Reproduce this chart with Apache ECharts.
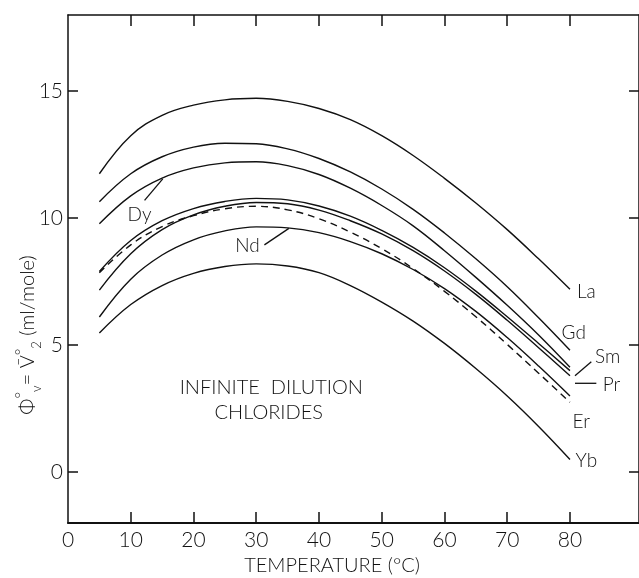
<!DOCTYPE html>
<html>
<head>
<meta charset="utf-8">
<title>Infinite dilution chlorides</title>
<script src="https://cdn.jsdelivr.net/npm/echarts@6/dist/echarts.min.js"></script>
<style>
    html, body {
        margin: 0;
        padding: 0;
        background: #fff;
    }

    #myChart {
        width: 639px;
        height: 578px;
    }
</style>
</head>
<body>
<div id="myChart"></div>
<script>
    // temperatures (°C) the curves were read at
    const temps = [5, 10, 15, 20, 25, 30, 35, 40, 45, 50, 55, 60, 65, 70, 75, 80];

    // phi_v° = V2° (ml/mole)
    const La = [11.75, 13.25, 14.05, 14.45, 14.66, 14.72, 14.6, 14.32, 13.88, 13.25, 12.47, 11.57, 10.6, 9.55, 8.4, 7.2];
    const Gd = [10.65, 11.75, 12.42, 12.8, 12.95, 12.93, 12.73, 12.35, 11.82, 11.15, 10.35, 9.42, 8.4, 7.3, 6.08, 4.8];
    const Dy = [9.78, 10.88, 11.58, 11.98, 12.18, 12.22, 12.07, 11.72, 11.18, 10.5, 9.7, 8.72, 7.67, 6.57, 5.4, 4.13];
    const Sm = [7.9, 9.12, 9.9, 10.38, 10.66, 10.78, 10.72, 10.48, 10.08, 9.52, 8.85, 8.05, 7.13, 6.12, 5.07, 4.0];
    const Pr = [7.17, 8.6, 9.55, 10.13, 10.47, 10.62, 10.57, 10.32, 9.9, 9.38, 8.72, 7.92, 7.0, 5.98, 4.9, 3.8];
    const Er = [7.85, 8.95, 9.67, 10.1, 10.37, 10.47, 10.33, 9.98, 9.45, 8.8, 8.02, 7.12, 6.12, 5.03, 3.9, 2.75];
    const Nd = [6.11, 7.6, 8.55, 9.15, 9.5, 9.66, 9.62, 9.43, 9.08, 8.6, 7.98, 7.23, 6.33, 5.3, 4.18, 3.0];
    const Yb = [5.48, 6.6, 7.35, 7.83, 8.1, 8.2, 8.12, 7.86, 7.35, 6.7, 5.95, 5.07, 4.08, 3.0, 1.8, 0.5];

    // ticks / labels
    const xTicks = [10, 20, 30, 40, 50, 60, 70, 80];
    const xLabels = [0, 10, 20, 30, 40, 50, 60, 70, 80];
    const yTicks = [0, 5, 10, 15];

    const curves = [
        { name: 'La', data: La },
        { name: 'Gd', data: Gd },
        { name: 'Dy', data: Dy },
        { name: 'Sm', data: Sm },
        { name: 'Pr', data: Pr },
        { name: 'Er', data: Er, dashed: true },
        { name: 'Nd', data: Nd },
        { name: 'Yb', data: Yb }
    ];

    // text on the plot, in data units (T, V)
    const notes = [
        { text: 'La', at: [82.6, 7.1] },
        { text: 'Gd', at: [80.6, 5.5] },
        { text: 'Sm', at: [86.0, 4.55] },
        { text: 'Pr', at: [86.6, 3.45] },
        { text: 'Er', at: [81.8, 2.0] },
        { text: 'Yb', at: [82.6, 0.45] },
        { text: 'Dy', at: [11.4, 10.15] },
        { text: 'Nd', at: [28.6, 8.9] },
        { text: 'INFINITE  DILUTION', at: [32.4, 3.35] },
        { text: 'CHLORIDES', at: [32.0, 2.35] }
    ];
    // little leader lines from label to curve
    const leaders = [
        [[12.2, 10.7], [15.1, 11.55]],
        [[31.3, 8.95], [35.2, 9.6]],
        [[80.8, 3.8], [83.4, 4.35]],
        [[80.8, 3.5], [84.2, 3.5]]
    ];

    const FONT = 'Lato';
    const INK = '#111';

    let myChart = echarts.init(document.getElementById('myChart'));

    function xAxisOpt(pos) {
        return {
            type: 'value',
            position: pos,
            min: 0,
            max: 91,
            axisLine: { show: true, onZero: false, lineStyle: { color: INK, width: pos === 'bottom' ? 2 : 1.5 } },
            axisTick: { show: true, inside: true, length: 11, customValues: xTicks, lineStyle: { color: INK, width: 1.5 } },
            axisLabel: {
                show: pos === 'bottom',
                customValues: xLabels,
                margin: 7,
                color: INK,
                fontFamily: FONT,
                fontWeight: 300,
                fontSize: 21
            },
            splitLine: { show: false }
        };
    }

    function yAxisOpt(pos) {
        return {
            type: 'value',
            position: pos,
            min: -2,
            max: 18,
            axisLine: { show: true, onZero: false, lineStyle: { color: INK, width: 1.5 } },
            axisTick: { show: true, inside: true, length: 10, customValues: yTicks, lineStyle: { color: INK, width: 1.5 } },
            axisLabel: {
                show: pos === 'left',
                customValues: yTicks,
                margin: 5,
                color: INK,
                fontFamily: FONT,
                fontWeight: 300,
                fontSize: 21
            },
            splitLine: { show: false }
        };
    }

    let option = {
        animation: false,
        backgroundColor: '#fff',
        grid: { left: 68, top: 15, width: 573, height: 508 },
        xAxis: [xAxisOpt('bottom'), xAxisOpt('top')],
        yAxis: [yAxisOpt('left'), yAxisOpt('right')],
        series: curves.map(c => ({
            name: c.name,
            type: 'line',
            xAxisIndex: 0,
            yAxisIndex: 0,
            smooth: 0.4,
            symbol: 'none',
            data: temps.map((t, i) => [t, c.data[i]]),
            lineStyle: {
                color: INK,
                width: 1.4,
                type: c.dashed ? [7, 5] : 'solid'
            }
        }))
    };
    myChart.setOption(option);

    // annotations are placed once the axes exist
    const px = p => myChart.convertToPixel({ xAxisIndex: 0, yAxisIndex: 0 }, p);
    let graphics = [];
    for (let n of notes) {
        let p = px(n.at);
        graphics.push({
            type: 'text',
            x: p[0],
            y: p[1],
            style: {
                text: n.text,
                fill: INK,
                fontFamily: FONT,
                fontWeight: 300,
                fontSize: n.text.length > 2 ? 20 : 19,
                align: 'center',
                verticalAlign: 'middle'
            }
        });
    }
    for (let l of leaders) {
        let a = px(l[0]);
        let b = px(l[1]);
        graphics.push({
            type: 'line',
            shape: { x1: a[0], y1: a[1], x2: b[0], y2: b[1] },
            style: { stroke: INK, lineWidth: 1.3 }
        });
    }
    // axis titles
    graphics.push({
        type: 'text',
        x: 332,
        y: 566,
        style: {
            text: 'TEMPERATURE (°C)',
            fill: INK,
            fontFamily: FONT,
            fontWeight: 300,
            fontSize: 20,
            align: 'center',
            verticalAlign: 'middle'
        }
    });
    graphics.push({
        type: 'text',
        x: 28,
        y: 335,
        rotation: Math.PI / 2,
        style: {
            text: '{a|Φ}{p|°}{b|v}{a|= V\u0304}{p|°}{b|2}{a| (ml/mole)}',
            fill: INK,
            align: 'center',
            verticalAlign: 'middle',
            rich: {
                a: { fontFamily: FONT, fontWeight: 300, fontSize: 20, lineHeight: 30, verticalAlign: 'middle', fill: INK },
                p: { fontFamily: FONT, fontWeight: 300, fontSize: 16, lineHeight: 30, verticalAlign: 'top', fill: INK },
                b: { fontFamily: FONT, fontWeight: 300, fontSize: 13, lineHeight: 30, verticalAlign: 'bottom', fill: INK }
            }
        }
    });
    myChart.setOption({ graphic: graphics });
</script>
</body>
</html>
